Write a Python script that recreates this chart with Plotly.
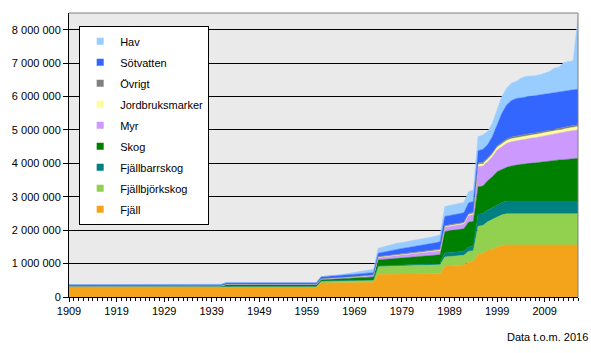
import plotly.graph_objects as go

# Year categories (1909 .. 2016)
years = list(range(1909, 2017))

# Protected area by land type, hectares
fjall = [
    300000, 300000, 300000, 300000, 300000, 300000, 300000, 300000, 300000, 300000,
    300000, 302000, 302000, 302000, 302000, 302000, 302000, 302000, 302000, 302000,
    302000, 302000, 302000, 302000, 302000, 302000, 302000, 302000, 302000, 302000,
    302000, 302000, 302000, 302000, 302000, 302000, 302000, 302000, 302000, 302000,
    302000, 302000, 302000, 302000, 302000, 302000, 302000, 302000, 302000, 302000,
    302000, 302000, 302000, 420000, 421000, 422000, 424000, 425000, 427000, 430000,
    432000, 434000, 436000, 438000, 440000, 680000, 682000, 685000, 688000, 690000,
    690000, 690000, 691000, 691000, 691000, 692000, 692000, 692000, 693000, 920000,
    935000, 940000, 945000, 960000, 1050000, 1060000, 1280000, 1300000, 1400000, 1430000,
    1500000, 1550000, 1560000, 1560000, 1560000, 1560000, 1560000, 1560000, 1560000, 1560000,
    1560000, 1560000, 1560000, 1560000, 1560000, 1560000, 1560000, 1560000,
]
fjallbjorkskog = [
    8000, 8000, 8000, 8000, 8000, 8000, 8000, 8000, 8000, 8000,
    8000, 8000, 8000, 8000, 8000, 8000, 8000, 8000, 8000, 8000,
    8000, 9000, 9000, 9000, 9000, 9000, 9000, 9000, 9000, 9000,
    9000, 9000, 9000, 12000, 12000, 12000, 12000, 12000, 12000, 12000,
    12000, 12000, 12000, 12000, 12000, 12000, 12000, 12000, 12000, 12000,
    12000, 12000, 12000, 50000, 51000, 52000, 53000, 53000, 54000, 55000,
    56000, 57000, 58000, 59000, 60000, 230000, 232000, 235000, 238000, 240000,
    243000, 246000, 249000, 252000, 255000, 258000, 262000, 266000, 270000, 280000,
    280000, 282000, 284000, 287000, 320000, 325000, 840000, 840000, 850000, 890000,
    900000, 910000, 930000, 930000, 930000, 930000, 930000, 930000, 930000, 930000,
    930000, 930000, 930000, 930000, 930000, 930000, 930000, 930000,
]
fjallbarrskog = [
    4000, 4000, 4000, 4000, 4000, 4000, 4000, 4000, 4000, 4000,
    4000, 4000, 4000, 4000, 4000, 4000, 4000, 4000, 4000, 4000,
    4000, 5000, 5000, 5000, 5000, 5000, 5000, 5000, 5000, 5000,
    5000, 5000, 5000, 8000, 8000, 8000, 8000, 8000, 8000, 8000,
    8000, 8000, 8000, 8000, 8000, 8000, 8000, 8000, 8000, 8000,
    8000, 8000, 8000, 10000, 10000, 10000, 11000, 11000, 11000, 11000,
    12000, 12000, 12000, 12000, 12000, 20000, 22000, 25000, 28000, 30000,
    31000, 32000, 33000, 34000, 35000, 36000, 37000, 38000, 40000, 120000,
    122000, 123000, 124000, 125000, 130000, 132000, 360000, 360000, 350000, 360000,
    350000, 370000, 380000, 380000, 380000, 380000, 380000, 380000, 380000, 380000,
    380000, 380000, 380000, 380000, 380000, 380000, 380000, 380000,
]
skog = [
    10000, 10000, 10000, 10000, 10000, 10000, 10000, 10000, 10000, 10000,
    10000, 10000, 10000, 10000, 10000, 10000, 10000, 10000, 11000, 11000,
    11000, 11000, 11000, 11000, 11000, 11000, 11000, 11000, 11000, 11000,
    11000, 11000, 11000, 35000, 35000, 35000, 35000, 35000, 35000, 35000,
    35000, 35000, 35000, 38000, 38000, 38000, 38000, 38000, 38000, 38000,
    38000, 38000, 38000, 40000, 43000, 46000, 50000, 54000, 58000, 63000,
    68000, 73000, 78000, 84000, 90000, 180000, 183000, 185000, 188000, 190000,
    196000, 203000, 210000, 218000, 226000, 234000, 242000, 251000, 260000, 640000,
    648000, 655000, 662000, 670000, 740000, 750000, 820000, 820000, 880000, 920000,
    1000000, 990000, 1010000, 1050000, 1080000, 1100000, 1110000, 1130000, 1150000, 1170000,
    1190000, 1210000, 1220000, 1230000, 1240000, 1250000, 1270000, 1280000,
]
myr = [
    5000, 5000, 5000, 5000, 5000, 5000, 5000, 5000, 5000, 5000,
    5000, 5000, 5000, 5000, 5000, 5000, 5000, 5000, 5000, 5000,
    5000, 5000, 5000, 5000, 5000, 5000, 5000, 5000, 5000, 5000,
    5000, 5000, 5000, 20000, 20000, 20000, 20000, 20000, 20000, 20000,
    20000, 20000, 20000, 20000, 20000, 20000, 20000, 20000, 20000, 20000,
    20000, 20000, 20000, 22000, 23000, 24000, 25000, 27000, 28000, 30000,
    32000, 34000, 36000, 38000, 40000, 70000, 78000, 86000, 93000, 100000,
    102000, 104000, 106000, 108000, 110000, 112000, 115000, 117000, 120000, 130000,
    133000, 136000, 139000, 142000, 200000, 205000, 600000, 600000, 570000, 600000,
    650000, 680000, 720000, 730000, 730000, 730000, 740000, 750000, 750000, 760000,
    760000, 770000, 790000, 800000, 820000, 840000, 840000, 850000,
]
jordbruksmarker = [
    1000, 1000, 1000, 1000, 1000, 1000, 1000, 1000, 1000, 1000,
    1000, 1000, 1000, 1000, 1000, 1000, 1000, 1000, 1000, 1000,
    1000, 1000, 1000, 1000, 1000, 1000, 1000, 1000, 1000, 1000,
    1000, 1000, 1000, 1000, 1000, 1000, 1000, 1000, 1000, 1000,
    1000, 1000, 1000, 1000, 1000, 1000, 1000, 1000, 1000, 1000,
    1000, 1000, 1000, 1000, 1000, 2000, 2000, 3000, 3000, 4000,
    5000, 5000, 6000, 7000, 8000, 10000, 11000, 12000, 14000, 15000,
    15000, 16000, 16000, 17000, 17000, 18000, 18000, 19000, 20000, 20000,
    20000, 21000, 21000, 22000, 28000, 29000, 70000, 70000, 75000, 75000,
    80000, 80000, 85000, 85000, 85000, 85000, 90000, 90000, 90000, 90000,
    95000, 95000, 95000, 95000, 100000, 100000, 100000, 100000,
]
ovrigt = [
    2000, 2000, 2000, 2000, 2000, 2000, 2000, 2000, 2000, 2000,
    2000, 2000, 2000, 2000, 2000, 2000, 2000, 3000, 3000, 3000,
    3000, 3000, 3000, 3000, 3000, 3000, 3000, 3000, 3000, 3000,
    3000, 3000, 3000, 3000, 3000, 3000, 3000, 3000, 3000, 3000,
    3000, 3000, 3000, 3000, 3000, 3000, 3000, 3000, 3000, 3000,
    3000, 3000, 3000, 5000, 5000, 6000, 6000, 7000, 7000, 8000,
    8000, 9000, 9000, 10000, 10000, 20000, 20000, 20000, 20000, 20000,
    21000, 22000, 23000, 24000, 25000, 26000, 27000, 28000, 30000, 30000,
    30000, 31000, 31000, 32000, 32000, 33000, 40000, 40000, 40000, 45000,
    45000, 45000, 45000, 50000, 50000, 50000, 50000, 50000, 50000, 50000,
    55000, 55000, 55000, 55000, 55000, 55000, 60000, 60000,
]
sotvatten = [
    40000, 40000, 40000, 40000, 40000, 40000, 40000, 40000, 40000, 40000,
    40000, 40000, 40000, 40000, 40000, 40000, 40000, 40000, 40000, 40000,
    40000, 40000, 40000, 40000, 40000, 40000, 40000, 40000, 40000, 40000,
    40000, 40000, 40000, 45000, 45000, 45000, 45000, 45000, 45000, 45000,
    45000, 45000, 45000, 45000, 45000, 45000, 45000, 45000, 45000, 45000,
    45000, 45000, 45000, 60000, 61000, 62000, 63000, 64000, 65000, 66000,
    67000, 68000, 68000, 69000, 70000, 100000, 115000, 128000, 140000, 150000,
    156000, 162000, 168000, 174000, 180000, 190000, 200000, 210000, 220000, 270000,
    272000, 275000, 278000, 282000, 320000, 325000, 370000, 390000, 395000, 480000,
    625000, 875000, 1020000, 1095000, 1125000, 1125000, 1120000, 1110000, 1110000, 1100000,
    1090000, 1100000, 1090000, 1090000, 1075000, 1065000, 1060000, 1060000,
]
hav = [
    0, 0, 0, 0, 0, 0, 0, 0, 0, 0,
    0, 0, 0, 0, 0, 0, 0, 1000, 1000, 1000,
    1000, 1000, 1000, 1000, 1000, 1000, 1000, 1000, 1000, 1000,
    1000, 1000, 1000, 1000, 1000, 1000, 1000, 1000, 1000, 1000,
    1000, 1000, 1000, 1000, 1000, 1000, 1000, 1000, 1000, 1000,
    1000, 1000, 1000, 2000, 5000, 10000, 18000, 26000, 35000, 45000,
    55000, 65000, 75000, 88000, 100000, 150000, 160000, 165000, 170000, 175000,
    178000, 180000, 182000, 185000, 188000, 190000, 193000, 196000, 200000, 300000,
    300000, 302000, 305000, 308000, 330000, 340000, 420000, 430000, 390000, 400000,
    450000, 500000, 500000, 520000, 510000, 590000, 620000, 600000, 600000, 610000,
    640000, 650000, 730000, 740000, 860000, 870000, 870000, 2160000,
]

series_names = ["Fjäll", "Fjällbjörkskog", "Fjällbarrskog", "Skog", "Myr",
                "Jordbruksmarker", "Övrigt", "Sötvatten", "Hav"]
series_values = [fjall, fjallbjorkskog, fjallbarrskog, skog, myr,
                 jordbruksmarker, ovrigt, sotvatten, hav]
series_colors = ["#F4A41B", "#92D050", "#008080", "#008000", "#CC99FF",
                 "#FFFF99", "#808080", "#3366FF", "#99CCFF"]

x_tickvals = [1909, 1919, 1929, 1939, 1949, 1959, 1969, 1979, 1989, 1999, 2009]

for v in series_values:
    assert len(v) == len(years)

FONT = "Liberation Sans, Arial, sans-serif"

fig = go.Figure()
for name, vals, col in zip(series_names, series_values, series_colors):
    fig.add_trace(go.Scatter(
        x=years, y=vals, name=name, mode="lines", stackgroup="one",
        line=dict(width=0.5, color=col), fillcolor=col,
        showlegend=False, hoverinfo="skip",
    ))
# legend entries as small squares, top entry = top of stack (Hav)
for name, col in reversed(list(zip(series_names, series_colors))):
    fig.add_trace(go.Scatter(
        x=[None], y=[None], mode="markers", name=name, legendgroup=name,
        marker=dict(symbol="square", size=7, color=col),
        showlegend=True, hoverinfo="skip",
    ))

fig.update_layout(
    width=591, height=353,
    margin=dict(l=64, r=13, t=13, b=56, pad=0),
    paper_bgcolor="white", plot_bgcolor="#EAEAEA",
    font=dict(family=FONT, size=11, color="black"),
    separators=", ",
    showlegend=True,
    legend=dict(
        x=0.02, y=0.955, xanchor="left", yanchor="top",
        bgcolor="white", bordercolor="black", borderwidth=1,
        traceorder="grouped", tracegroupgap=2,
        font=dict(family=FONT, size=11, color="black"),
        itemwidth=30,
    ),
    xaxis=dict(
        range=[1909, 2016], tickmode="array", tickvals=x_tickvals,
        ticks="outside", ticklen=4, tickcolor="black", tickwidth=1,
        showline=True, linecolor="black", linewidth=1,
        showgrid=False, zeroline=False,
        minor=dict(tickmode="linear", tick0=1909, dtick=1, ticks="outside",
                   ticklen=3, tickcolor="black", tickwidth=1, showgrid=False),
        tickfont=dict(family=FONT, size=11, color="black"),
    ),
    yaxis=dict(
        range=[0, 8500000], tick0=0, dtick=1000000, tickformat=",d",
        ticks="outside", ticklen=5, tickcolor="black", tickwidth=1,
        showline=True, linecolor="black", linewidth=1,
        showgrid=True, gridcolor="black", gridwidth=1, zeroline=False,
        tickfont=dict(family=FONT, size=11, color="black"),
    ),
    shapes=[
        dict(type="line", xref="paper", yref="paper", x0=0, x1=1, y0=1, y1=1,
             line=dict(color="#808080", width=1)),
        dict(type="line", xref="paper", yref="paper", x0=1, x1=1, y0=0, y1=1,
             line=dict(color="#808080", width=1)),
    ],
    annotations=[
        dict(text="Data t.o.m. 2016", xref="paper", yref="paper",
             x=1.023, y=-0.141, xanchor="right", yanchor="middle",
             showarrow=False, font=dict(family=FONT, size=11, color="black")),
    ],
)

fig.write_html("out.html")
